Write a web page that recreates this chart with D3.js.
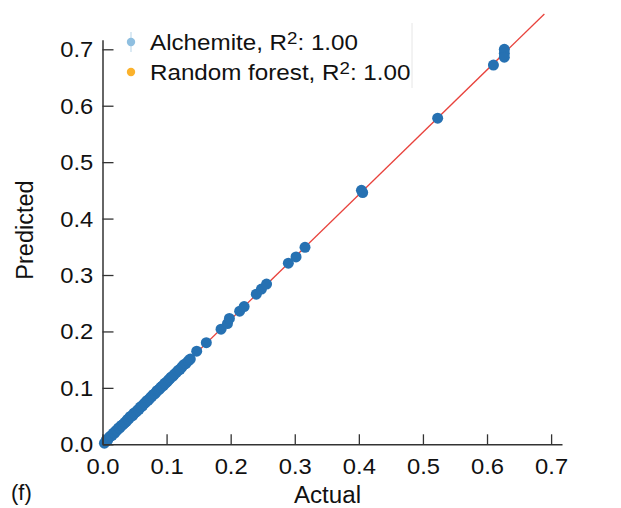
<!DOCTYPE html>
<html lang="en">
<head>
<meta charset="UTF-8">
<title>Actual vs Predicted</title>
<script src="https://d3js.org/d3.v7.min.js"></script>
<style>
  body{margin:0;background:#fff;}
  svg{display:block;font-family:"Liberation Sans",Arial,sans-serif;}
</style>
</head>
<body>
<svg width="621" height="508"></svg>
<script>
// values
const actual = [0.003,0.006,0.008,0.011,0.013,0.015,0.017,0.019,0.021,0.023,0.025,0.027,0.029,0.031,0.033,0.035,
  0.037,0.039,0.041,0.043,0.045,0.047,0.049,0.051,0.053,0.055,0.057,0.059,0.061,0.063,0.065,0.067,0.069,0.071,
  0.073,0.075,0.077,0.079,0.081,0.083,0.085,0.087,0.089,0.091,0.093,0.095,0.097,0.099,0.101,0.103,0.105,0.107,
  0.110,0.112,0.115,0.118,0.121,0.124,0.127,0.130,0.134,0.137,
  0.147,0.162,0.185,0.195,0.198,0.214,0.221,0.240,0.248,0.256,0.290,0.302,0.316,
  0.404,0.406,0.523,0.610,0.627,0.627,0.627]
const predicted = [0.002,0.008,0.007,0.013,0.015,0.016,0.020,0.020,0.024,0.025,0.029,0.029,0.033,0.034,0.036,0.039,
  0.040,0.044,0.045,0.049,0.050,0.051,0.055,0.056,0.058,0.061,0.062,0.066,0.067,0.069,0.072,0.074,0.077,0.078,
  0.080,0.083,0.085,0.088,0.089,0.091,0.095,0.096,0.098,0.101,0.103,0.104,0.108,0.109,0.111,0.114,0.116,0.119,
  0.121,0.124,0.127,0.131,0.133,0.137,0.141,0.143,0.148,0.151,
  0.165,0.180,0.204,0.214,0.223,0.236,0.244,0.266,0.275,0.284,0.321,0.332,0.349,
  0.450,0.446,0.578,0.672,0.700,0.693,0.686]
const fitLine = [[0, 0], [0.6895, 0.7625]]
const ticks = [0, 0.1, 0.2, 0.3, 0.4, 0.5, 0.6, 0.7]
const legendLabels = ["Alchemite, R", "Random forest, R"]
const legendScores = ["1.00", "1.00"]
const legendColors = ["#8fbfe0", "#fbb22c"]

const svg = d3.select("svg")
const x = d3.scaleLinear().domain([0, 0.717]).range([102.5, 562])
const y = d3.scaleLinear().domain([0, 0.717]).range([444.3, 39.7])

// red reference line
svg.append("path")
  .attr("d", d3.line().x(d => x(d[0])).y(d => y(d[1]))(fitLine))
  .attr("stroke", "#e8423c").attr("stroke-width", 1.3).attr("fill", "none")

// points
svg.append("g").selectAll("circle")
  .data(actual.map((a, i) => [a, predicted[i]]))
  .join("circle")
  .attr("cx", d => x(d[0]))
  .attr("cy", d => y(d[1]))
  .attr("r", 5.5)
  .attr("fill", "#2671b2")

// axes
const xAxis = svg.append("g").attr("transform", `translate(0,${y(0)})`)
  .call(d3.axisBottom(x).tickValues(ticks).tickFormat(d3.format(".1f")).tickSizeInner(-10).tickSizeOuter(0))
const yAxis = svg.append("g").attr("transform", `translate(${x(0)},0)`)
  .call(d3.axisLeft(y).tickValues(ticks).tickFormat(d3.format(".1f")).tickSizeInner(-11).tickSizeOuter(0))
;[xAxis, yAxis].forEach(g => {
  g.select(".domain").attr("stroke", "#333").attr("stroke-width", 1.5)
  g.selectAll(".tick line").attr("stroke", "#333").attr("stroke-width", 1.3)
  g.selectAll("text").attr("font-size", 22).attr("fill", "#111")
    .attr("font-family", "Liberation Sans, Arial, sans-serif")
})
// the reference lettering is a little wide
xAxis.selectAll("text").attr("y", 14).attr("dy", "0.71em").attr("transform", "scale(1.08,1)")
  .attr("x", 0)
yAxis.selectAll("text").attr("x", -8.5).attr("dy", "0.34em").attr("transform", "scale(1.08,1)")

// axis titles
svg.append("text").attr("transform", "translate(327.5,503) scale(1.05,1)").attr("text-anchor", "middle")
  .attr("font-size", 23).attr("fill", "#111").text("Actual")
svg.append("text").attr("transform", "translate(33,230) rotate(-90)").attr("text-anchor", "middle")
  .attr("font-size", 23.5).attr("fill", "#111").text("Predicted")
svg.append("text").attr("x", 11).attr("y", 500)
  .attr("font-size", 22).attr("fill", "#111").text("(f)")

// legend
const legend = svg.append("g")
svg.append("line").attr("x1", 412).attr("x2", 412).attr("y1", 23).attr("y2", 88)
  .attr("stroke", "#e6e6e6").attr("stroke-width", 1)
legend.append("line").attr("x1", 131).attr("x2", 131).attr("y1", 32).attr("y2", 52)
  .attr("stroke", "#cfe3f1").attr("stroke-width", 1.5)
legendLabels.forEach((lab, i) => {
  const cy = 42 + i * 30
  legend.append("circle").attr("cx", 131).attr("cy", cy).attr("r", 4.2).attr("fill", legendColors[i])
  const t = legend.append("text").attr("transform", `translate(150,${cy + 8}) scale(1.1,1)`)
    .attr("font-size", 22).attr("fill", "#111")
  t.append("tspan").text(lab)
  t.append("tspan").attr("font-size", 17).attr("dy", -6).text("2")
  t.append("tspan").attr("dy", 6).text(": " + legendScores[i])
})
</script>
</body>
</html>
